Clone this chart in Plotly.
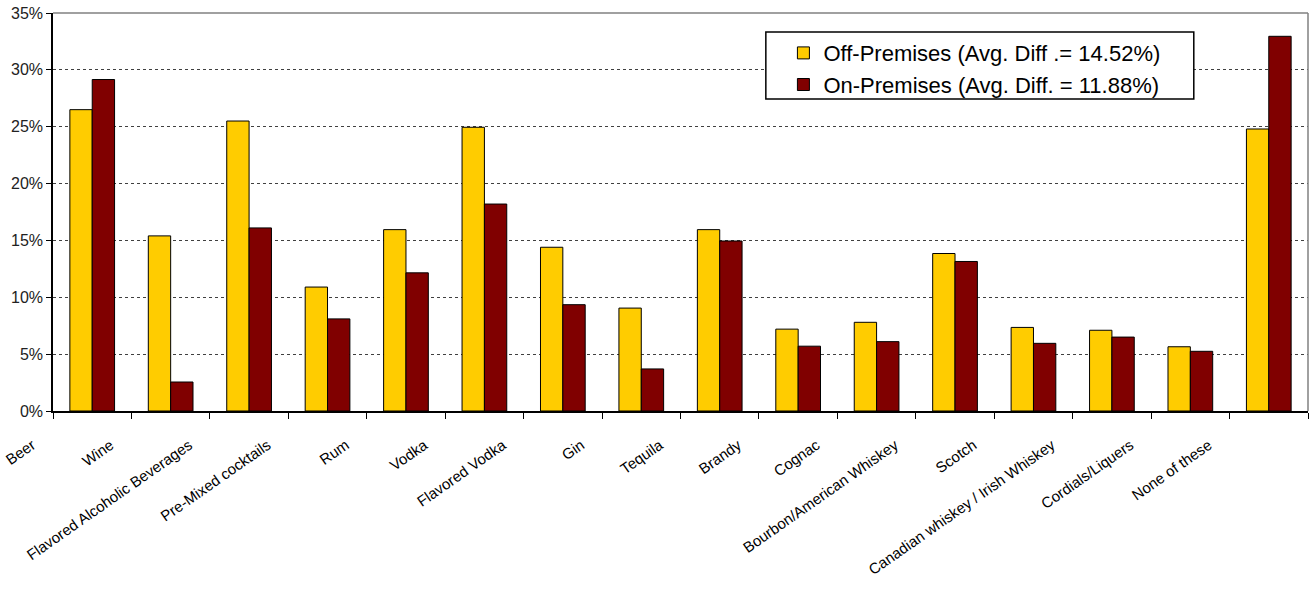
import plotly.graph_objects as go

categories = [
    "Beer", "Wine", "Flavored Alcoholic Beverages", "Pre-Mixed cocktails", "Rum",
    "Vodka", "Flavored Vodka", "Gin", "Tequila", "Brandy", "Cognac",
    "Bourbon/American Whiskey", "Scotch", "Canadian whiskey / Irish Whiskey",
    "Cordials/Liquers", "None of these",
]
off_premises = [26.5, 15.4, 25.5, 10.9, 15.95, 24.95, 14.4, 9.05, 15.95, 7.2, 7.8,
                13.85, 7.35, 7.1, 5.65, 24.8]
on_premises = [29.15, 2.55, 16.1, 8.1, 12.15, 18.2, 9.35, 3.7, 14.95, 5.7, 6.1,
               13.15, 5.95, 6.5, 5.25, 32.95]
off_name = "Off-Premises (Avg. Diff .= 14.52%)"
on_name = "On-Premises (Avg. Diff. = 11.88%)"
y_ticks = [0, 5, 10, 15, 20, 25, 30, 35]

FONT = "Liberation Sans, Arial, sans-serif"

fig = go.Figure()
fig.add_trace(go.Bar(
    x=categories, y=off_premises, name=off_name, legendgroup="off",
    marker=dict(color="#FFCC00", line=dict(color="#000000", width=1)),
))
fig.add_trace(go.Bar(
    x=categories, y=on_premises, name=on_name, legendgroup="on",
    marker=dict(color="#800000", line=dict(color="#000000", width=1)),
))

fig.update_layout(
    width=1310, height=597,
    margin=dict(l=53, r=2, t=13, b=186),
    paper_bgcolor="white", plot_bgcolor="white",
    barmode="group", bargap=0.43, bargroupgap=0,
    font=dict(family=FONT, size=14, color="#000000"),
    legend=dict(
        x=0.582, y=0.952, xanchor="left", yanchor="top",
        bgcolor="rgba(0,0,0,0)", borderwidth=0,
        font=dict(family=FONT, size=22, color="#000000"),
        tracegroupgap=0,
    ),
    shapes=[
        # legend frame
        dict(type="rect", xref="paper", yref="paper",
             x0=0.568, x1=0.909, y0=0.784, y1=0.952,
             line=dict(color="#000000", width=1.5), fillcolor="white", layer="above"),
        # plot area frame (top and right edges)
        dict(type="line", xref="paper", yref="paper", x0=0, x1=1, y0=1, y1=1,
             line=dict(color="#808080", width=1.5)),
        dict(type="line", xref="paper", yref="paper", x0=1, x1=1, y0=0, y1=1,
             line=dict(color="#808080", width=1.5)),
    ],
)

fig.update_xaxes(
    type="category", tickangle=-35, tickson="boundaries",
    ticks="outside", ticklen=6, tickcolor="#000000", tickwidth=1,
    showline=True, linecolor="#000000", linewidth=1.5,
    tickfont=dict(family=FONT, size=15, color="#000000"),
    ticklabelshift=-60, ticklabelstandoff=18,
    showgrid=False,
)
fig.update_yaxes(
    range=[0, 35], tickvals=y_ticks, ticktext=[f"{v}%" for v in y_ticks],
    ticks="outside", ticklen=5, tickcolor="#000000", tickwidth=1,
    showline=True, linecolor="#000000", linewidth=1.5,
    showgrid=True, gridcolor="#404040", gridwidth=1, griddash="dot",
    tickfont=dict(family=FONT, size=16, color="#222222"),
    zeroline=False,
)

fig.write_html("out.html")
